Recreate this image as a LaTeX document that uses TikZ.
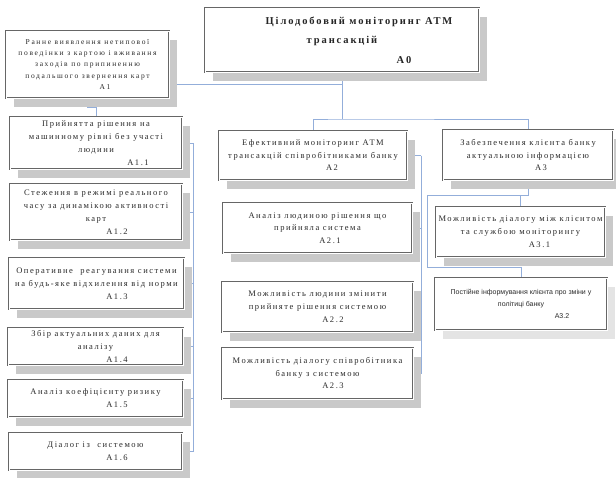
\documentclass[tikz,border=0pt]{standalone}
\usepackage{fontspec}
\setmainfont{Liberation Serif}
\newfontfamily\bxf{Liberation Serif}[LetterSpace=18]
\newfontfamily\smf{Liberation Serif}[LetterSpace=22]
\newfontfamily\ttlf{Liberation Serif}[LetterSpace=18]
\newfontfamily\sxf{Liberation Sans}
\usetikzlibrary{calc,backgrounds}
\definecolor{conn}{HTML}{93AEDA}
\definecolor{shad}{HTML}{C9C9C9}
\definecolor{shadl}{HTML}{E4E4E4}
\definecolor{frame}{HTML}{666666}
\definecolor{ink}{HTML}{2A2A2A}
\tikzset{
  bx/.style={draw=frame, double=white, double distance=1pt, line width=0.85pt,
    fill=white, inner sep=0pt, align=center, text=ink,
    font=\bxf\fontsize{8.5}{13}\selectfont},
  small/.style={font=\smf\fontsize{7.5}{11.2}\selectfont},
  mid/.style={font=\bxf\fontsize{8.5}{12.5}\selectfont},
  ttl/.style={font=\ttlf\bfseries\fontsize{10.5}{19.5}\selectfont, text=black!85},
  sans/.style={font=\sxf\fontsize{7}{12}\selectfont},
  cn/.style={draw=conn, line width=0.65pt},
}
% name, x1, y1, x2, y2, extra style, text
\newcommand\mkbox[7]{%
  \node[bx, #6, minimum width={#4-#2}, minimum height={#5-#3}]
    (#1) at ({(#2+#4)/2},{(#3+#5)/2}) {#7};}
\newcommand\shd[2][shad]{%
  \fill[#1] ([shift={(8,9)}]#2.south west) rectangle ([shift={(8,9)}]#2.north east);}
\begin{document}
\begin{tikzpicture}[x=1pt,y=-1pt]
\useasboundingbox (0,0) rectangle (616,477);
\mkbox{a0}{205}{8}{479}{72}{ttl}{\hspace*{34pt}Цілодобовий моніторинг АТМ\\ трансакцій\\ \hspace*{124pt}А0}
\mkbox{a1}{6}{31}{169}{98}{small}{Ранне виявлення нетипової\\ поведінки з картою і вживання\\ заходів по припиненню\\ подальшого звернення карт\\ \hspace*{35pt}А1}
\mkbox{a11}{10}{117}{182}{169}{}{Прийнятта рішення на\\ машинному рівні без участі\\ людини\\ \hspace*{84pt}А1.1}
\mkbox{a12}{10}{184}{182}{240}{}{Стеження в режимі реального\\ часу за динамікою активності\\ карт\\ \hspace*{42pt}А1.2}
\mkbox{a13}{9}{258}{184}{309}{}{Оперативне\ \ реагування системи\\ на будь-яке відхилення від норми\\ \hspace*{41pt}А1.3}
\mkbox{a14}{8}{328}{183}{365}{}{Збір актуальних даних для\\ аналізу\\ \hspace*{43pt}А1.4}
\mkbox{a15}{8}{380}{183}{417}{}{Аналіз коефіцієнту ризику\\ \hspace*{43pt}А1.5}
\mkbox{a16}{9}{433}{182}{470}{}{Діалог із\ \ системою\\ \hspace*{43pt}А1.6}
\mkbox{a2}{219}{131}{407}{180}{mid}{Ефективний моніторинг АТМ\\ трансакцій співробітниками банку\\ \hspace*{38pt}А2}
\mkbox{a21}{223}{203}{412}{253}{mid}{Аналіз людиною рішення що\\ прийняла система\\ \hspace*{25pt}А2.1}
\mkbox{a22}{222}{282}{413}{332}{}{Можливість людини змінити\\ прийняте рішення системою\\ \hspace*{31pt}А2.2}
\mkbox{a23}{222}{348}{413}{399}{mid}{Можливість діалогу співробітника\\ банку з системою\\ \hspace*{31pt}А2.3}
\mkbox{a3}{443}{130}{613}{180}{mid}{Забезпечення клієнта банку\\ актуальною інформацією\\ \hspace*{26pt}А3}
\mkbox{a31}{436}{207}{605}{257}{}{Можливість діалогу між клієнтом\\ та службою моніторингу\\ \hspace*{38pt}А3.1}
\mkbox{a32}{435}{278}{607}{330}{sans}{Постійне інформування клієнта про зміни у\\ політиці банку\\ \hspace*{82pt}А3.2}
\coordinate (j0) at (342,119);
\coordinate (h0) at (342,84);
\coordinate (b1) at (193,0);
\coordinate (b2) at (421,0);
\coordinate (j3) at (528,195);
\coordinate (k3) at (427,195);
\coordinate (m3) at (427,267);
\begin{scope}[on background layer]
  \draw[cn] (a0.south -| j0) -- (j0);
  \draw[cn] (h0) -- (h0 -| a1.east);
  \draw[cn] (a2.north) |- (j0) -| (a3.north);
  \draw[cn] (a1.south) |- ($(a1.south)!0.5!(a11.north)$) -| (a11.north);
  \draw[cn] (a11.east -| b1) -- (a16.east -| b1);
  \foreach \n in {a11,a12,a13,a14,a15,a16} \draw[cn] (\n.east) -- (\n.east -| b1);
  \draw[cn] (a2.east -| b2) -- (a23.east -| b2);
  \foreach \n in {a2,a21,a22,a23} \draw[cn] (\n.east) -- (\n.east -| b2);
  \draw[cn] (a3.south) -- (a3.south |- j3) -- (k3) -- (m3) -| (a32.north);
  \draw[cn] (a31.north) -- (a31.north |- j3);
  \foreach \n in {a0,a1,a11,a12,a13,a14,a15,a16,a2,a21,a22,a23,a3,a31} \shd{\n};
  \shd[shadl]{a32}
\end{scope}
\end{tikzpicture}
\end{document}
